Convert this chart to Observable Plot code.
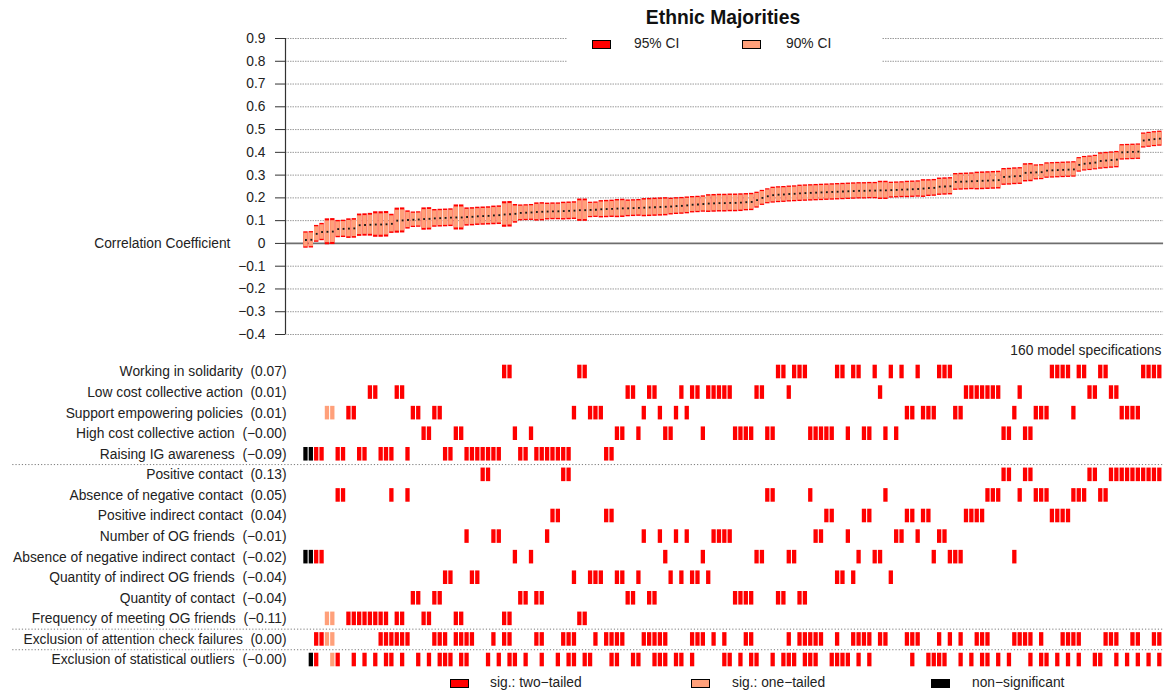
<!DOCTYPE html>
<html><head><meta charset="utf-8">
<script src="https://cdn.jsdelivr.net/npm/d3@7"></script>
<script src="https://cdn.jsdelivr.net/npm/@observablehq/plot@0.6"></script>
<style>
body{margin:0;background:#fff;font-family:"Liberation Sans",Arial,sans-serif;color:#222;}
#wrap{position:relative;width:1167px;height:695px;overflow:hidden;background:#fff;}
#top{position:absolute;left:0;top:0;}
#bot{position:absolute;left:0;top:360px;}
.abs{position:absolute;white-space:nowrap;}
.title{font-weight:bold;font-size:19.3px;line-height:24px;text-align:center;width:400px;left:523px;top:6px;color:#111;}
.lgbg{background:#fff;}
.box{box-sizing:border-box;border:1px solid #000;width:19px;height:9px;}
.lt{font-size:13.8px;line-height:16px;}
</style></head>
<body><div id="wrap">
<div id="top"></div><div id="bot"></div>
<div class="abs title">Ethnic Majorities</div>
<div class="abs lgbg" style="left:567px;top:28px;width:315px;height:38px;"></div>
<div class="abs box" style="left:592px;top:40px;background:#FF0000;"></div>
<div class="abs lt" style="left:634px;top:36px;">95% CI</div>
<div class="abs box" style="left:742px;top:40px;background:#FFA07A;"></div>
<div class="abs lt" style="left:786px;top:36px;">90% CI</div>
<div class="abs box" style="left:450px;top:679px;background:#FF0000;"></div>
<div class="abs lt" style="left:490px;top:675px;">sig.: two−tailed</div>
<div class="abs box" style="left:691px;top:679px;background:#FFA07A;"></div>
<div class="abs lt" style="left:732px;top:675px;">sig.: one−tailed</div>
<div class="abs box" style="left:931px;top:679px;background:#000000;"></div>
<div class="abs lt" style="left:972px;top:675px;">non−significant</div>
</div>
<script>
// ---- row labels ----
const outcomes = ["Working in solidarity","Low cost collective action","Support empowering policies","High cost collective action","Raising IG awareness"];
const outcomeCoef = ["0.07","0.01","0.01","−0.00","−0.09"];
const predictors = ["Positive contact","Absence of negative contact","Positive indirect contact","Number of OG friends","Absence of negative indirect contact","Quantity of indirect OG friends","Quantity of contact","Frequency of meeting OG friends"];
const predictorCoef = ["0.13","0.05","0.04","−0.01","−0.02","−0.04","−0.04","−0.11"];
const exclusions = ["Exclusion of attention check failures","Exclusion of statistical outliers"];
const exclusionCoef = ["0.00","−0.00"];
const yTicks = [-0.4,-0.3,-0.2,-0.1,0,0.1,0.2,0.3,0.4,0.5,0.6,0.7,0.8,0.9];
const sigNames = ["sig.: two−tailed","sig.: one−tailed","non−significant"];

// ---- per specification (sorted by estimate) ----
const specEst = [
0.015,0.016,0.042,0.050,0.051,0.052,0.063,0.064,0.065,0.066,
0.080,0.081,0.082,0.083,0.083,0.084,0.086,0.100,0.101,0.103,
0.104,0.105,0.107,0.108,0.110,0.111,0.112,0.113,0.114,0.114,
0.116,0.117,0.119,0.120,0.121,0.123,0.124,0.127,0.128,0.130,
0.134,0.135,0.136,0.138,0.139,0.140,0.141,0.141,0.142,0.143,
0.144,0.146,0.146,0.147,0.148,0.150,0.151,0.152,0.153,0.154,
0.154,0.155,0.156,0.157,0.158,0.159,0.160,0.161,0.162,0.164,
0.165,0.167,0.170,0.171,0.173,0.175,0.176,0.177,0.177,0.178,
0.178,0.179,0.181,0.182,0.190,0.200,0.207,0.212,0.214,0.215,
0.217,0.218,0.220,0.221,0.222,0.223,0.224,0.225,0.226,0.227,
0.228,0.229,0.230,0.231,0.231,0.232,0.232,0.233,0.233,0.234,
0.235,0.236,0.237,0.238,0.239,0.241,0.243,0.244,0.249,0.250,
0.251,0.270,0.271,0.272,0.273,0.274,0.275,0.276,0.277,0.278,
0.292,0.293,0.295,0.296,0.310,0.311,0.312,0.313,0.320,0.321,
0.322,0.323,0.324,0.325,0.345,0.350,0.352,0.355,0.362,0.364,
0.366,0.368,0.400,0.401,0.402,0.403,0.452,0.455,0.458,0.460];
const specHw95 = [
0.036,0.036,0.037,0.038,0.057,0.057,0.038,0.038,0.043,0.043,
0.049,0.049,0.050,0.056,0.056,0.056,0.042,0.055,0.055,0.040,
0.034,0.034,0.049,0.049,0.039,0.039,0.039,0.039,0.055,0.055,
0.040,0.040,0.040,0.040,0.040,0.041,0.041,0.056,0.056,0.041,
0.035,0.035,0.035,0.040,0.040,0.037,0.037,0.037,0.039,0.039,
0.039,0.049,0.049,0.034,0.034,0.038,0.038,0.038,0.040,0.040,
0.037,0.037,0.037,0.040,0.040,0.040,0.040,0.040,0.037,0.037,
0.037,0.037,0.036,0.036,0.036,0.039,0.039,0.039,0.039,0.039,
0.039,0.039,0.038,0.038,0.035,0.033,0.033,0.035,0.035,0.035,
0.035,0.035,0.036,0.036,0.036,0.036,0.036,0.036,0.036,0.036,
0.036,0.036,0.036,0.036,0.036,0.036,0.036,0.040,0.040,0.035,
0.035,0.035,0.036,0.036,0.036,0.039,0.037,0.037,0.038,0.038,
0.038,0.037,0.037,0.037,0.037,0.039,0.039,0.039,0.039,0.039,
0.037,0.037,0.037,0.037,0.040,0.040,0.033,0.033,0.034,0.034,
0.034,0.034,0.034,0.034,0.032,0.032,0.032,0.032,0.036,0.036,
0.036,0.036,0.034,0.034,0.034,0.034,0.033,0.033,0.033,0.033];
const specOutcome = [
4,4,4,4,2,2,4,4,2,2, 4,4,1,1,4,4,4,1,1,4, 2,2,3,3,2,2,4,4,3,3, 4,4,4,4,4,4,4,0,0,3,
4,4,3,4,4,4,4,4,4,4, 2,0,0,2,2,2,4,4,3,3, 1,1,3,2,1,1,2,3,3,2, 1,2,1,1,3,1,1,1,1,1,
3,3,3,3,1,1,3,3,0,0, 1,0,0,0,3,3,3,3,3,0, 0,3,0,0,3,3,0,1,3,0, 3,0,2,2,0,2,2,2,0,0,
0,2,2,1,1,1,1,1,1,1, 3,3,2,1,3,3,2,2,2,0, 0,0,0,2,0,0,1,1,0,0, 1,1,2,2,2,2,0,0,0,0];
const specPredictor = [
4,4,4,4,7,7,1,1,7,7, 7,7,7,7,7,7,1,7,7,1, 6,6,7,7,6,6,5,5,7,7, 3,5,5,0,0,3,3,7,7,4,
6,6,4,6,6,3,2,2,0,0, 5,7,7,5,5,5,2,2,5,5, 6,6,5,3,6,6,3,4,5,3, 5,3,5,5,4,5,3,3,3,3,
6,6,6,6,4,4,1,1,6,6, 4,4,6,6,1,3,3,2,2,5, 5,3,5,4,2,2,4,4,1,5, 3,3,2,2,3,2,2,4,3,3,
4,4,4,2,2,2,2,1,1,1, 0,0,4,1,0,0,1,1,1,2, 2,2,2,1,1,1,0,0,1,1, 0,0,0,0,0,0,0,0,0,0];
const specAttn = [
0,0,1,1,1,1,0,0,0,0, 0,0,0,0,1,1,1,1,1,1, 0,0,0,0,1,1,1,0,1,1, 1,1,0,0,0,1,0,1,1,0,
0,0,0,1,1,0,0,0,1,1, 1,0,0,0,1,0,1,1,1,1, 0,0,0,1,1,1,1,1,0,0, 0,0,1,1,1,0,1,0,1,0,
0,0,1,1,0,0,0,0,0,0, 1,0,1,1,1,1,1,0,0,1, 0,0,1,1,1,1,0,1,1,0, 0,0,1,1,1,0,0,0,1,0,
1,0,1,0,0,1,1,1,0,0, 0,0,1,1,1,1,0,1,0,0, 0,1,1,1,1,0,0,0,0,1, 1,1,0,0,1,1,0,0,1,1];
const specOutl = [
0,1,1,0,0,1,1,0,0,1, 0,1,0,1,0,1,1,0,1,0, 0,1,0,1,0,1,1,1,0,1, 1,0,0,0,1,0,1,0,1,1,
0,1,0,0,1,0,0,1,0,1, 1,0,1,1,0,0,0,1,1,0, 0,1,1,0,0,1,1,1,0,1, 1,0,1,0,0,0,0,0,1,1,
0,1,0,1,1,0,0,1,0,1, 1,1,0,1,1,1,0,0,1,1, 1,1,0,1,0,1,0,0,0,0, 0,0,0,1,0,0,1,1,1,1,
0,0,1,0,1,0,1,1,0,1, 0,1,0,0,0,1,0,1,1,0, 1,0,1,0,1,0,0,1,1,0, 0,1,0,1,0,1,0,1,0,1];
// 0 = two-tailed, 1 = one-tailed, 2 = non-significant
const specSig = [
2,2,0,0,1,1,0,0,0,0, 0,0,0,0,0,0,0,0,0,0, 0,0,0,0,0,0,0,0,0,0, 0,0,0,0,0,0,0,0,0,0,
0,0,0,0,0,0,0,0,0,0, 0,0,0,0,0,0,0,0,0,0, 0,0,0,0,0,0,0,0,0,0, 0,0,0,0,0,0,0,0,0,0,
0,0,0,0,0,0,0,0,0,0, 0,0,0,0,0,0,0,0,0,0, 0,0,0,0,0,0,0,0,0,0, 0,0,0,0,0,0,0,0,0,0,
0,0,0,0,0,0,0,0,0,0, 0,0,0,0,0,0,0,0,0,0, 0,0,0,0,0,0,0,0,0,0, 0,0,0,0,0,0,0,0,0,0];

const sigColors = ["#FF0000","#FFA07A","#000000"];
const RED = "#FF0000", SALMON = "#FFA07A";
const FONT = "'Liberation Sans', Arial, sans-serif";
const z90 = 1.645/1.96;

const specs = specEst.map((e,i)=>({
  k:i+1, est:e,
  lo95:e-specHw95[i], hi95:e+specHw95[i],
  lo90:e-specHw95[i]*z90, hi90:e+specHw95[i]*z90,
  sig:specSig[i]
}));

const rowLabels = [
  ...outcomes.map((n,i)=>n+"\u00a0 ("+outcomeCoef[i]+")"),
  ...predictors.map((n,i)=>n+"\u00a0 ("+predictorCoef[i]+")"),
  ...exclusions.map((n,i)=>n+"\u00a0 ("+exclusionCoef[i]+")")
];

const cells = [];
specs.forEach((s,i)=>{
  cells.push({k:s.k,row:specOutcome[i],sig:s.sig});
  cells.push({k:s.k,row:5+specPredictor[i],sig:s.sig});
  if (specAttn[i]) cells.push({k:s.k,row:13,sig:s.sig});
  if (specOutl[i]) cells.push({k:s.k,row:14,sig:s.sig});
});

const X0 = -2.81, X1 = 160.5;
const xScale = {domain:[X0,X1], axis:null};
const FS = 13.8;

const topPlot = Plot.plot({
  width:1167, height:360,
  marginLeft:285, marginRight:5, marginTop:38, marginBottom:26,
  style:{fontFamily:FONT, fontSize:FS+"px", color:"#222", background:"transparent"},
  x:xScale,
  y:{domain:[-0.4,0.9], axis:null},
  marks:[
    Plot.ruleY(yTicks.filter(d=>d!==0),{x1:X0,x2:160.7,stroke:"#9a9a9a",strokeWidth:1,strokeDasharray:"1.5,1"}),
    Plot.ruleY([0],{x1:X0,x2:160.7,stroke:"#6e6e6e",strokeWidth:1.6}),
    Plot.rect(specs,{x1:d=>d.k-0.41,x2:d=>d.k+0.41,y1:"lo95",y2:"hi95",fill:RED}),
    Plot.rect(specs,{x1:d=>d.k-0.41,x2:d=>d.k+0.41,y1:"lo90",y2:"hi90",fill:SALMON}),
    Plot.dot(specs,{x:"k",y:"est",symbol:"square",r:1.05,fill:"#1a1a1a",stroke:null}),
    Plot.axisY({ticks:yTicks,tickSize:10,tickPadding:10,stroke:"#333",label:null,fontSize:FS,
      tickFormat:d=>d===0?"0":d.toFixed(1).replace("-","−")}),
    Plot.ruleX([X0],{y1:-0.4,y2:0.9,stroke:"#333",strokeWidth:1.2}),
    Plot.text(["Correlation Coefficient"],{x:X0-10.25,y:0,text:d=>d,textAnchor:"end",fontSize:FS,fill:"#222"}),
    Plot.text(["160 model specifications"],{x:160.3,y:-0.4,dy:16,text:d=>d,textAnchor:"end",fontSize:FS,fill:"#222"})
  ]
});
document.getElementById("top").appendChild(topPlot);

const botPlot = Plot.plot({
  width:1167, height:335,
  marginLeft:285, marginRight:5, marginTop:1.2, marginBottom:25.2,
  style:{fontFamily:FONT, fontSize:FS+"px", color:"#222", background:"transparent"},
  x:xScale,
  y:{domain:[-0.5,14.5], reverse:true, axis:null},
  marks:[
    Plot.ruleY([4.5,12.5,13.5],{x1:-53.6,x2:160.7,stroke:"#7a7a7a",strokeWidth:1,strokeDasharray:"1.2,2"}),
    Plot.rect(cells,{x1:d=>d.k-0.4,x2:d=>d.k+0.4,y1:d=>d.row-0.33,y2:d=>d.row+0.33,fill:d=>sigColors[d.sig]}),
    Plot.text(rowLabels,{x:-2.62,y:(d,i)=>i,text:d=>d,textAnchor:"end",fontSize:FS,fill:"#222"})
  ]
});
document.getElementById("bot").appendChild(botPlot);
</script>
</body></html>
